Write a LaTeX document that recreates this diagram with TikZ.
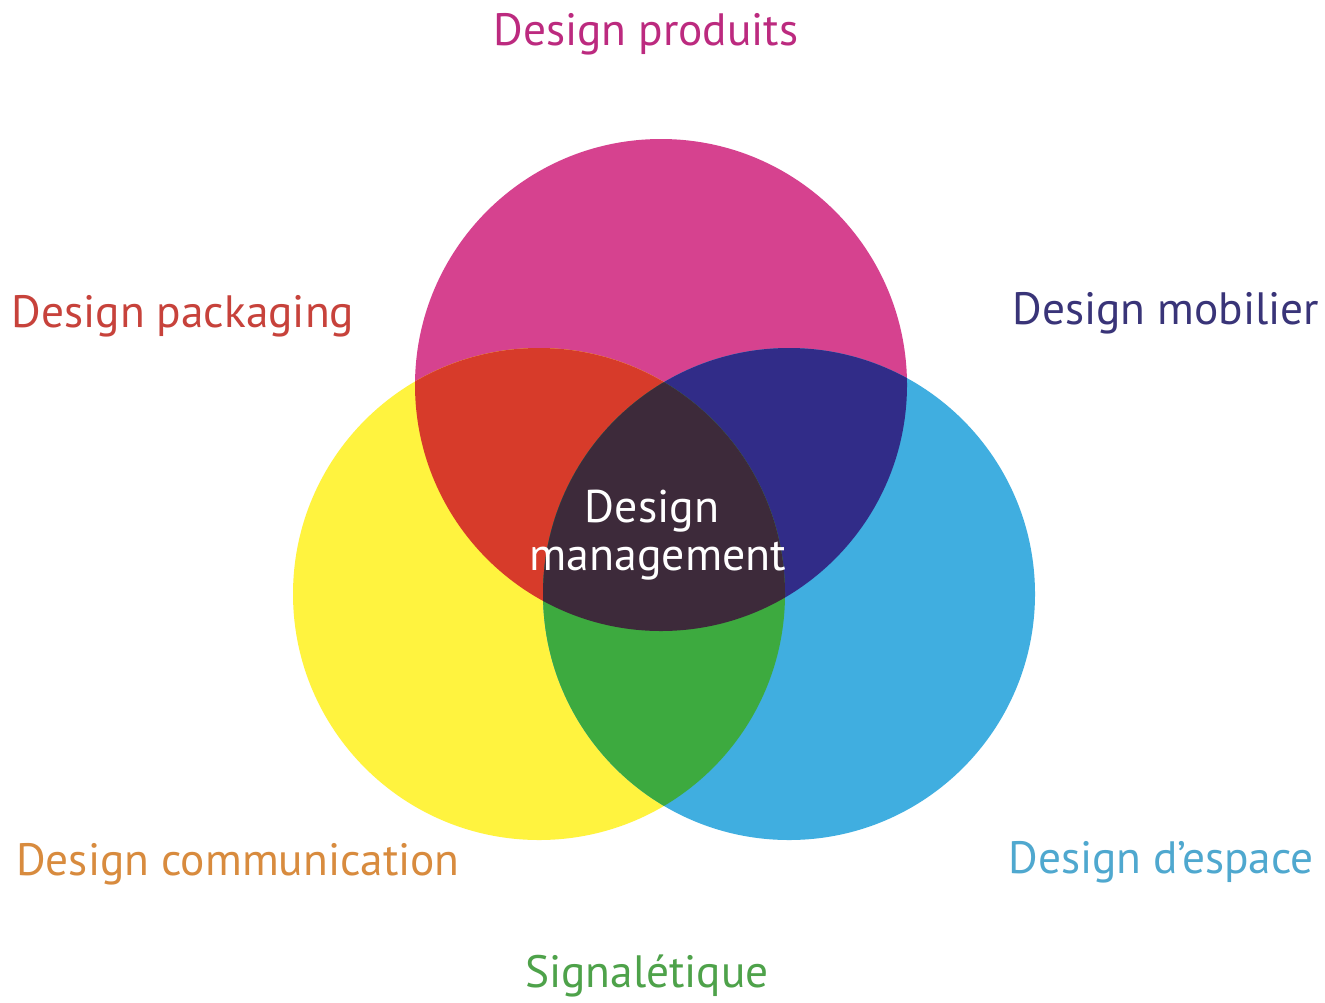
\documentclass[tikz,border=0pt]{standalone}
\usepackage{fontspec}
\setmainfont{PT Sans}
\definecolor{cM}{HTML}{D6428F}
\definecolor{cY}{HTML}{FFF33F}
\definecolor{cB}{HTML}{40AEE0}
\definecolor{cMY}{HTML}{D73B2A}
\definecolor{cMB}{HTML}{312C88}
\definecolor{cYB}{HTML}{3DAA3F}
\definecolor{cC}{HTML}{3D2A3A}
\definecolor{tM}{HTML}{BC2A7F}
\definecolor{tP}{HTML}{C7423B}
\definecolor{tMo}{HTML}{393478}
\definecolor{tCo}{HTML}{D88B3E}
\definecolor{tE}{HTML}{4FA8CF}
\definecolor{tS}{HTML}{4EA24A}
\tikzset{
  lbl/.style={inner sep=0pt, anchor=base, font=\fontsize{45.5}{50}\selectfont},
  ctr/.style={inner sep=0pt, anchor=base, text=white, font=\fontsize{46}{50}\selectfont},
}
\begin{document}
\begin{tikzpicture}[x=1bp,y=-1bp]
\useasboundingbox[fill=white] (0,0) rectangle (1325,1002);
\def\pM{(661,385) circle (246)}
\def\pY{(539,594) circle (246)}
\def\pB{(789,594) circle (246)}
\fill[cM] \pM;
\fill[cY] \pY;
\fill[cB] \pB;
\begin{scope}\clip \pM; \fill[cMY] \pY; \fill[cMB] \pB; \end{scope}
\begin{scope}\clip \pY; \fill[cYB] \pB; \end{scope}
\begin{scope}\clip \pM; \clip \pY; \fill[cC] \pB; \end{scope}
\node[lbl, text=tM] (prod) at (646,45) {Design produits};
\node[lbl, text=tP] (pack) at (183,327) {Design packaging};
\node[lbl, text=tMo] (mob) at (1166,324) {Design mobilier};
\node[lbl, text=tCo] (comm) at (238,875) {Design communication};
\node[lbl, text=tE] (esp) at (1161,873) {Design d’espace};
\node[lbl, text=tS] (sig) at (647,987) {Signalétique};
\node[ctr] (dm1) at (652,522) {Design};
\node[ctr] (dm2) at (658,570) {management};
\end{tikzpicture}
\end{document}
